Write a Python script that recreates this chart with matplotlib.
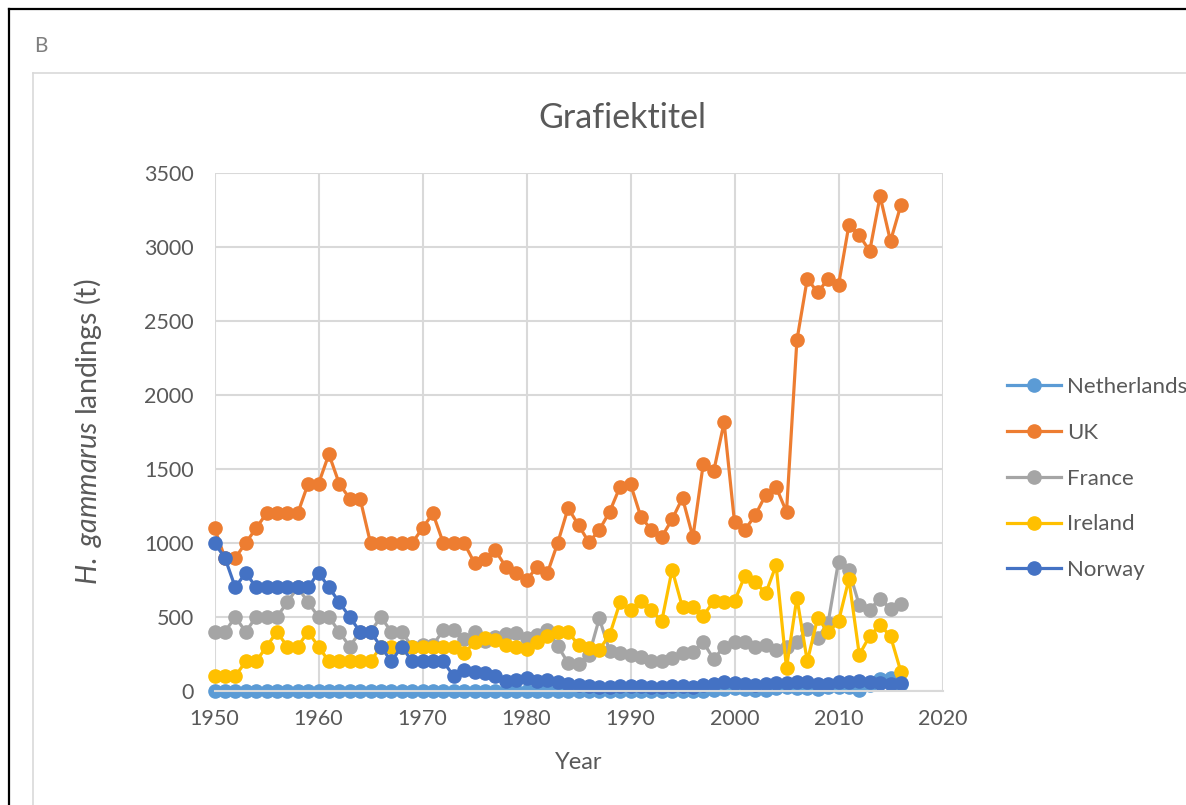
import matplotlib
matplotlib.use("Agg")
import matplotlib.pyplot as plt
from matplotlib.lines import Line2D

plt.rcParams["font.family"] = ["Lato", "DejaVu Sans"]
plt.rcParams["mathtext.fontset"] = "custom"
plt.rcParams["mathtext.rm"] = "Lato"
plt.rcParams["mathtext.it"] = "Lato:italic"

TEXT = "#595959"
GRID = "#d9d9d9"

years = list(range(1950, 2017))

netherlands = [0, 0, 0, 0, 0, 0, 0, 0, 0, 0,
               0, 0, 0, 0, 0, 0, 0, 0, 0, 0,
               0, 0, 0, 0, 0, 0, 0, 0, 0, 0,
               0, 0, 0, 0, 0, 0, 0, 0, 0, 0,
               0, 0, 0, 0, 0, 0, 0, 0, 10, 15,
               20, 15, 5, 10, 20, 25, 20, 20, 15, 25,
               30, 25, 5, 40, 80, 85, 50]
uk = [1100, 900, 900, 1000, 1100, 1200, 1200, 1200, 1200, 1400,
      1400, 1600, 1400, 1300, 1300, 1000, 1000, 1000, 1000, 1000,
      1100, 1200, 1000, 1000, 1000, 865, 895, 950, 840, 795,
      750, 836, 795, 1000, 1236, 1122, 1004, 1088, 1212, 1381,
      1398, 1176, 1090, 1040, 1160, 1304, 1040, 1535, 1485, 1815,
      1142, 1088, 1189, 1325, 1378, 1210, 2370, 2785, 2693, 2785,
      2742, 3148, 3080, 2972, 3343, 3040, 3283]
france = [400, 400, 500, 400, 500, 500, 500, 600, 700, 600,
          500, 500, 400, 300, 400, 400, 500, 400, 400, 300,
          310, 310, 410, 415, 350, 400, 340, 365, 385, 395,
          355, 380, 415, 305, 190, 180, 240, 490, 270, 260,
          245, 230, 200, 200, 220, 260, 265, 330, 215, 300,
          330, 330, 300, 310, 280, 300, 330, 420, 360, 460,
          875, 815, 580, 550, 625, 555, 590]
ireland = [100, 100, 100, 200, 200, 300, 400, 300, 300, 400,
           300, 200, 200, 200, 200, 200, 300, 300, 300, 300,
           300, 300, 300, 300, 255, 330, 360, 345, 310, 295,
           285, 330, 370, 400, 400, 310, 290, 280, 380, 600,
           550, 610, 550, 470, 820, 565, 565, 510, 605, 600,
           605, 780, 735, 660, 850, 155, 630, 200, 495, 400,
           470, 755, 245, 372, 445, 370, 130]
norway = [1000, 900, 700, 800, 700, 700, 700, 700, 700, 700,
          800, 700, 600, 500, 400, 400, 300, 200, 300, 200,
          200, 200, 200, 100, 140, 130, 120, 100, 70, 75,
          85, 65, 75, 60, 45, 40, 35, 30, 30, 35,
          35, 35, 30, 30, 35, 35, 30, 40, 50, 60,
          55, 45, 40, 50, 55, 55, 60, 60, 50, 50,
          60, 60, 65, 60, 55, 50, 55]

series = [("Netherlands", netherlands, "#5B9BD5"),
          ("UK", uk, "#ED7D31"),
          ("France", france, "#A5A5A5"),
          ("Ireland", ireland, "#FFC000"),
          ("Norway", norway, "#4472C4")]

W, H = 1186, 805
fig = plt.figure(figsize=(W / 100, H / 100), dpi=100)

# page frame (black cell borders) and chart-area border (light grey)
fig.add_artist(Line2D([9 / W, 1], [1 - 9 / H, 1 - 9 / H], color="black", lw=1.6))
fig.add_artist(Line2D([9 / W, 9 / W], [0, 1 - 9 / H], color="black", lw=1.6))
fig.add_artist(Line2D([33 / W, 1], [1 - 73 / H, 1 - 73 / H], color=GRID, lw=1.2))
fig.add_artist(Line2D([33 / W, 33 / W], [0, 1 - 73 / H], color=GRID, lw=1.2))

fig.text(34 / W, 1 - 46 / H, "B", color="#7f7f7f", fontsize=15, va="center", ha="left")
fig.text(622 / W, 1 - 118 / H, "Grafiektitel", color=TEXT, fontsize=24.5,
         ha="center", va="center")

left, right, top, bottom = 214.5, 942.5, 173, 691
ax = fig.add_axes([left / W, 1 - bottom / H, (right - left) / W, (bottom - top) / H])

for name, vals, color in series:
    ax.plot(years, vals, "-o", color=color, lw=2.3, ms=9.5, label=name, clip_on=False)

ax.set_xlim(1950, 2020)
ax.set_ylim(0, 3500)
ax.set_xticks(range(1950, 2021, 10))
ax.set_yticks(range(0, 3501, 500))
ax.grid(True, color=GRID, lw=1.5)
ax.set_axisbelow(True)
for s in ["top", "right", "left"]:
    ax.spines[s].set_visible(False)
ax.spines["bottom"].set_color(GRID)
ax.spines["bottom"].set_linewidth(1.5)
ax.tick_params(length=0, labelsize=15.5, labelcolor=TEXT)
ax.tick_params(axis="y", pad=15)
ax.tick_params(axis="x", pad=13)

ax.text(0.5, (bottom - 762) / (bottom - top), "Year", transform=ax.transAxes,
        ha="center", va="center", fontsize=17, color=TEXT)
ax.text((88 - left) / (right - left), 0.5, r"$\mathit{H.\ gammarus}$ landings (t)",
        transform=ax.transAxes, rotation=90, ha="center", va="center",
        fontsize=20.5, color=TEXT)

fig.legend(loc="upper left", bbox_to_anchor=(1007 / W, 1 - 377 / H),
           bbox_transform=fig.transFigure, frameon=False, fontsize=16,
           labelcolor=TEXT, handlelength=2.45, handletextpad=0.25,
           labelspacing=1.16, borderpad=0, borderaxespad=0)

fig.savefig("out.png", dpi=100)
